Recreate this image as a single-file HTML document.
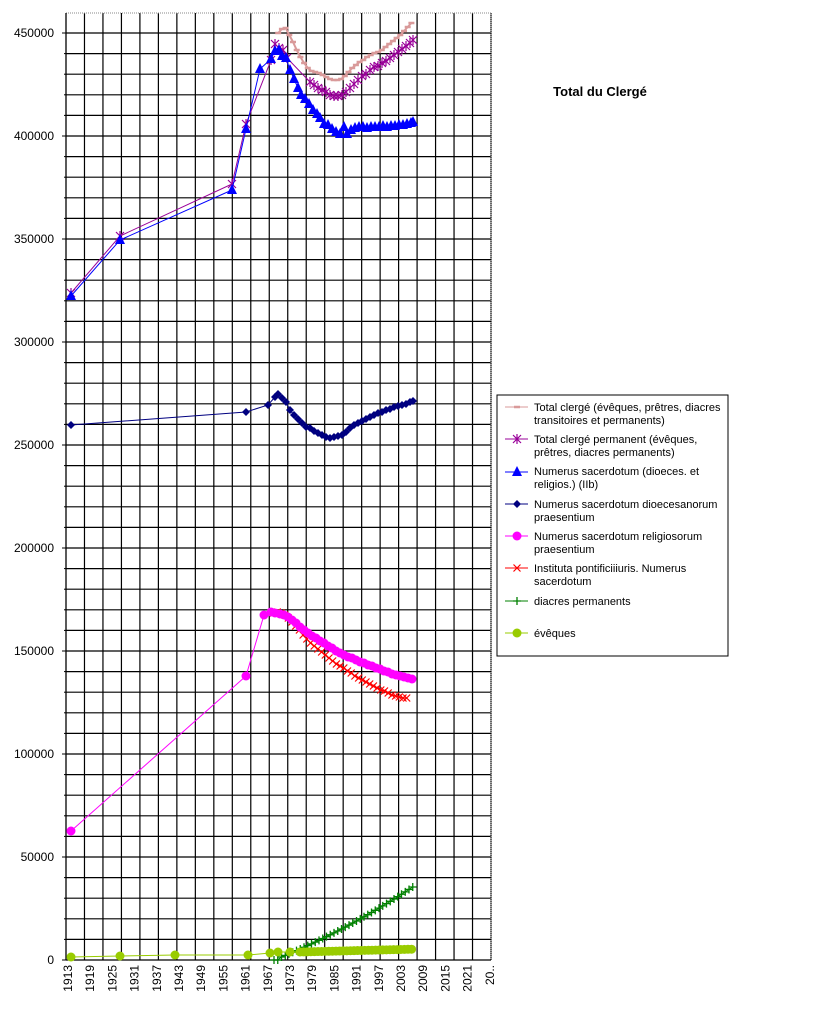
<!DOCTYPE html>
<html><head><meta charset="utf-8"><style>
body{margin:0;background:#fff;width:840px;height:1010px;overflow:hidden;font-family:"Liberation Sans",Arial,sans-serif}
svg{position:absolute;left:0;top:0}
</style></head><body>
<svg id="s" width="840" height="1010" xmlns="http://www.w3.org/2000/svg" font-family="Liberation Sans, Arial, sans-serif">
<text x="600" y="96" font-size="13" font-weight="bold" text-anchor="middle">Total du Clergé</text>
<rect x="497" y="395" width="231" height="261" fill="#fff" stroke="#000" stroke-width="1"/>
<g font-size="11" fill="#000">
<text x="534" y="411">Total clergé (évêques, prêtres, diacres</text><text x="534" y="424">transitoires et permanents)</text>
<text x="534" y="443">Total clergé permanent (évêques,</text><text x="534" y="456">prêtres, diacres permanents)</text>
<text x="534" y="475">Numerus sacerdotum (dioeces. et</text><text x="534" y="488">religios.) (IIb)</text>
<text x="534" y="508">Numerus sacerdotum dioecesanorum</text><text x="534" y="521">praesentium</text>
<text x="534" y="540">Numerus sacerdotum religiosorum</text><text x="534" y="553">praesentium</text>
<text x="534" y="572">Instituta pontificiiiuris. Numerus</text><text x="534" y="585">sacerdotum</text>
<text x="534" y="605">diacres permanents</text>
<text x="534" y="637">évêques</text>
</g>
<g id="g"></g>
</svg>
<script>
const NS="http://www.w3.org/2000/svg",g=document.getElementById('g');
function el(t,a,p){const e=document.createElementNS(NS,t);for(const k in a)e.setAttribute(k,a[k]);(p||g).appendChild(e);return e;}
const L=66,R=491,T=13,B=960;
for(let i=1;i<=23;i++){const x=L+i*(R-L)/23;el('line',{x1:x,y1:T,x2:x,y2:B,stroke:'#000','stroke-width':1.2});}
for(let v=10000;v<=450000;v+=10000){const y=B-v*103/50000;el('line',{x1:L,y1:y,x2:R,y2:y,stroke:'#000','stroke-width':1.2});}
el('rect',{x:L,y:T,width:R-L,height:B-T,fill:'none',stroke:'#888','stroke-width':1,'stroke-dasharray':'1,1'});
el('line',{x1:L,y1:T,x2:L,y2:B,stroke:'#000','stroke-width':1.3});
el('line',{x1:L,y1:B,x2:R,y2:B,stroke:'#000','stroke-width':1.3});
for(let v=0;v<=450000;v+=50000){const y=B-v*103/50000;el('line',{x1:62,y1:y,x2:L,y2:y,stroke:'#000'});
 const t=el('text',{x:54,y:y+4,'font-size':12,'text-anchor':'end'});t.textContent=v;}
for(let v=10000;v<=450000;v+=10000){if(v%50000){const y=B-v*103/50000;el('line',{x1:64,y1:y,x2:L,y2:y,stroke:'#000'});}}
const labs=['1913','1919','1925','1931','1937','1943','1949','1955','1961','1967','1973','1979','1985','1991','1997','2003','2009','2015','2021','20..'];
labs.forEach((s,i)=>{const x=68+i*22.2;const t=el('text',{x:0,y:0,'font-size':12,'text-anchor':'end',transform:`translate(${x+4},${B+5}) rotate(-90)`});t.textContent=s;});
function yr(y){return 68+(y-1913)*3.7+3;}
function mk(type,x,y,c,p){
 if(type==='dash')el('line',{x1:x-3,y1:y,x2:x+3,y2:y,stroke:c,'stroke-width':2.5},p);
 else if(type==='star'){el('path',{d:`M${x-4} ${y-4}L${x+4} ${y+4}M${x-4} ${y+4}L${x+4} ${y-4}M${x} ${y-5}V${y+5}`,stroke:c,'stroke-width':1.2},p);}
 else if(type==='tri')el('path',{d:`M${x} ${y-6}L${x+5} ${y+4}L${x-5} ${y+4}Z`,fill:c},p);
 else if(type==='dia')el('path',{d:`M${x} ${y-4}L${x+4} ${y}L${x} ${y+4}L${x-4} ${y}Z`,fill:c},p);
 else if(type==='circ')el('circle',{cx:x,cy:y,r:4.5,fill:c},p);
 else if(type==='x')el('path',{d:`M${x-3.5} ${y-3.5}L${x+3.5} ${y+3.5}M${x-3.5} ${y+3.5}L${x+3.5} ${y-3.5}`,stroke:c,'stroke-width':1.2},p);
 else if(type==='plus')el('path',{d:`M${x-4} ${y}H${x+4}M${x} ${y-4}V${y+4}`,stroke:c,'stroke-width':1.3},p);
}
function series(pts,c,type,w){el('polyline',{points:pts.map(p=>p.join(',')).join(' '),fill:'none',stroke:c,'stroke-width':w||1});pts.forEach(p=>mk(type,p[0],p[1],c));}
function yearly(y0,ys){return ys.map((v,i)=>[yr(y0+i),v]);}
series(yearly(1969,[33,29,28,35,42,50,57,63,68,71,72,73,75,77,79,80,80,79,76,72,68,65,62,60,57,55,53,52,50,47,44,41,38,35,31,27,23]),'#d99a9a','dash',2);
series([[71,293],[120,236],[232,184],[246,124],[271,60],[275,44],[279,48],[283,50],[287,58],[310,82],[314,85],[318,88],[322,90],[326,92],[330,95],[334,96],[338,96],[342,95],[346,92],[350,88],[354,84],[358,80],[362,76],[366,74],[370,70],[374,67],[378,66],[382,63],[386,61],[390,58],[394,55],[398,52],[402,49],[406,46],[410,43],[413,40]],'#990099','star');
series([[71,296],[120,240],[232,190],[246,129],[260,69],[271,59],[275,51],[279,50],[282,56],[286,58],[290,70],[294,79],[298,88],[301,95],[305,99],[309,104],[313,110],[317,114],[320,118],[324,124],[328,125],[332,129],[336,132],[340,134],[344,127],[347,134],[351,130],[355,128],[359,127],[363,127],[367,128],[371,127],[375,127],[379,127],[383,126],[387,127],[391,126],[395,126],[399,125],[403,125],[407,124],[411,123],[413,122]],'#0000ff','tri');
series([[71,425],[246,412],[268,405],[275,397],[278,394],[282,398],[286,402],[290,410],[294,415],[298,419],[302,423],[306,427],[310,428],[314,431],[318,433],[322,435],[326,437],[330,438],[334,437],[338,436],[342,435],[346,432],[350,428],[354,425],[358,423],[362,421],[366,419],[370,417],[374,415],[378,413],[382,412],[386,410],[390,409],[394,407],[398,406],[402,405],[406,404],[410,402],[413,401]],'#000080','dia');
series(yearly(1968,[613,612,613,615,618,622,626,630,635,639,643,646,649,652,655,658,661,664,666,668,671,673,676,678,680,682,684,686,688,690,691,693,695,696,697,698,698]).map((p,i)=>[p[0]-1,p[1]]),'#ff0000','x');
series([[71,831],[246,676],[264,615],[271,612],[275,613],[280,614],[284,615],[288,617],[292,620],[296,623],[300,627],[304,630],[308,633],[312,636],[316,638],[320,641],[324,643],[328,646],[332,648],[336,651],[340,653],[344,655],[348,657],[352,658],[356,660],[360,662],[364,663],[368,665],[372,666],[376,668],[380,669],[384,671],[388,672],[392,674],[396,675],[400,676],[404,677],[408,678],[412,679]],'#ff00ff','circ');
const dp=[];for(let i=0;i<=37;i++){const x=274+i*3.75;const t=i/37;dp.push([x,960-73*(0.75*t+0.25*t*t)*(t<0.03?0:1)]);}
series(dp,'#008000','plus');
const ev=[[71,957],[120,956],[175,955],[248,955],[270,953],[278,952],[290,952]];for(let x=300;x<=413;x+=3.6)ev.push([x,952-(x-300)*0.025]);
series(ev,'#99cc00','circ');
const lg=[[407,'#d99a9a','dash'],[439,'#990099','star'],[472,'#0000ff','tri'],[504,'#000080','dia'],[536,'#ff00ff','circ'],[568,'#ff0000','x'],[601,'#008000','plus'],[633,'#99cc00','circ']];
lg.forEach(([y,c,t])=>{el('line',{x1:505,y1:y,x2:528,y2:y,stroke:c,'stroke-width':1});mk(t,517,y,c);});
</script>
</body></html>
